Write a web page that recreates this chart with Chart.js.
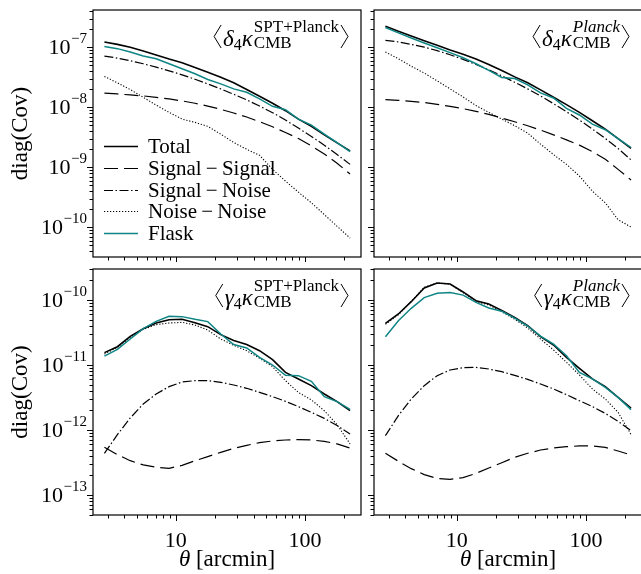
<!DOCTYPE html>
<html>
<head>
<meta charset="utf-8">
<script src="https://cdn.jsdelivr.net/npm/chart.js@4"></script>
<style>
  html, body { margin: 0; padding: 0; background: #fff; overflow: hidden; }
  #fig { position: relative; width: 641px; height: 574px; overflow: hidden; background: #fff; }
  canvas { position: absolute; }
</style>
</head>
<body>
<div id="fig">
  <canvas id="c1" width="368" height="262" style="left:0;top:0"></canvas>
  <canvas id="c2" width="280" height="262" style="left:368px;top:0"></canvas>
  <canvas id="c3" width="368" height="312" style="left:0;top:262px"></canvas>
  <canvas id="c4" width="280" height="312" style="left:368px;top:262px"></canvas>
</div>
<script>
// angular bins (arcmin)
var theta = [2.81, 3.54, 4.45, 5.61, 7.06, 8.89, 11.2, 14.1, 17.7, 22.3, 28.1, 35.4, 44.5, 56.1, 70.6, 88.9, 112, 141, 177, 223];

// <delta_4 kappa_CMB>, SPT+Planck
var dSptTotal = [1.23e-7, 1.12e-7, 1.00e-7, 8.69e-8, 7.45e-8, 6.37e-8, 5.53e-8, 4.62e-8, 3.86e-8, 3.18e-8, 2.56e-8, 1.98e-8, 1.53e-8, 1.17e-8, 8.79e-9, 6.37e-9, 4.81e-9, 3.48e-9, 2.56e-9, 1.88e-9];
var dSptSS = [1.72e-8, 1.67e-8, 1.61e-8, 1.55e-8, 1.47e-8, 1.38e-8, 1.28e-8, 1.17e-8, 1.05e-8, 9.25e-9, 8.04e-9, 6.89e-9, 5.75e-9, 4.74e-9, 3.81e-9, 3.02e-9, 2.28e-9, 1.67e-9, 1.17e-9, 7.73e-10];
var dSptSN = [7.16e-8, 6.62e-8, 5.98e-8, 5.32e-8, 4.68e-8, 4.06e-8, 3.48e-8, 2.94e-8, 2.46e-8, 2.03e-8, 1.65e-8, 1.33e-8, 1.05e-8, 8.15e-9, 6.14e-9, 4.51e-9, 3.27e-9, 2.34e-9, 1.63e-9, 1.12e-9];
var dSptNN = [3.27e-8, 2.56e-8, 1.98e-8, 1.47e-8, 1.09e-8, 8.24e-9, 6.37e-9, 5.61e-9, 4.81e-9, 3.57e-9, 2.59e-9, 2.00e-9, 1.59e-9, 9.25e-10, 5.90e-10, 3.86e-10, 2.56e-10, 1.63e-10, 1.04e-10, 6.62e-11];
var dSptFlask = [1.03e-7, 9.51e-8, 8.36e-8, 7.16e-8, 6.46e-8, 5.32e-8, 4.39e-8, 3.62e-8, 2.91e-8, 2.46e-8, 2.03e-8, 1.78e-8, 1.38e-8, 1.04e-8, 9.14e-9, 6.37e-9, 5.06e-9, 3.57e-9, 2.59e-9, 1.83e-9];

// <delta_4 kappa_CMB>, Planck
var dPlkTotal = [2.25e-7, 1.85e-7, 1.55e-7, 1.29e-7, 1.08e-7, 9.02e-8, 7.64e-8, 6.37e-8, 5.19e-8, 4.12e-8, 3.22e-8, 2.56e-8, 1.95e-8, 1.47e-8, 1.11e-8, 8.24e-9, 5.98e-9, 4.34e-9, 3.02e-9, 2.06e-9];
var dPlkSS = [1.34e-8, 1.31e-8, 1.26e-8, 1.20e-8, 1.12e-8, 1.04e-8, 9.51e-9, 8.57e-9, 7.64e-9, 6.62e-9, 5.75e-9, 4.93e-9, 4.17e-9, 3.48e-9, 2.87e-9, 2.34e-9, 1.83e-9, 1.36e-9, 9.25e-10, 6.14e-10];
var dPlkSN = [1.31e-7, 1.23e-7, 1.12e-7, 1.01e-7, 8.79e-8, 7.53e-8, 6.30e-8, 5.19e-8, 4.23e-8, 3.35e-8, 2.62e-8, 2.03e-8, 1.55e-8, 1.15e-8, 8.45e-9, 6.14e-9, 4.34e-9, 3.02e-9, 2.06e-9, 1.33e-9];
var dPlkNN = [8.36e-8, 6.46e-8, 4.86e-8, 3.72e-8, 2.76e-8, 2.03e-8, 1.49e-8, 1.07e-8, 8.24e-9, 6.37e-9, 4.93e-9, 3.72e-9, 2.43e-9, 1.63e-9, 1.12e-9, 7.16e-10, 4.01e-10, 2.56e-10, 1.34e-10, 1.01e-10];
var dPlkFlask = [2.14e-7, 1.74e-7, 1.43e-7, 1.18e-7, 9.86e-8, 8.15e-8, 6.71e-8, 5.32e-8, 4.12e-8, 3.14e-8, 3.02e-8, 2.37e-8, 1.74e-8, 1.43e-8, 9.62e-9, 7.45e-9, 5.26e-9, 4.23e-9, 3.02e-9, 2.14e-9];

// <gamma_4 kappa_CMB>, SPT+Planck
var gSptTotal = [1.55e-11, 1.91e-11, 2.76e-11, 3.62e-11, 4.43e-11, 4.98e-11, 5.05e-11, 4.48e-11, 3.89e-11, 2.93e-11, 2.39e-11, 2.06e-11, 1.66e-11, 1.21e-11, 7.71e-12, 6.10e-12, 4.81e-12, 3.58e-12, 2.73e-12, 1.98e-12];
var gSptSS = [5.41e-13, 4.18e-13, 3.37e-13, 2.90e-13, 2.67e-13, 2.57e-13, 2.86e-13, 3.37e-13, 3.89e-13, 4.53e-13, 5.22e-13, 5.81e-13, 6.38e-13, 6.78e-13, 7.02e-13, 7.10e-13, 7.02e-13, 6.70e-13, 6.10e-13, 5.28e-13];
var gSptSN = [4.38e-13, 8.47e-13, 1.53e-12, 2.51e-12, 3.58e-12, 4.65e-12, 5.47e-12, 5.74e-12, 5.74e-12, 5.41e-12, 4.92e-12, 4.38e-12, 3.79e-12, 3.26e-12, 2.76e-12, 2.29e-12, 1.87e-12, 1.51e-12, 1.17e-12, 8.67e-13];
var gSptNN = [1.48e-11, 1.87e-11, 2.67e-11, 3.54e-11, 4.18e-11, 4.43e-11, 4.53e-11, 4.12e-11, 3.45e-11, 2.51e-11, 2.01e-11, 1.66e-11, 1.27e-11, 9.42e-12, 5.74e-12, 3.79e-12, 2.90e-12, 1.98e-12, 1.21e-12, 6.10e-13];
var gSptFlask = [1.37e-11, 1.74e-11, 2.51e-11, 3.62e-11, 4.70e-11, 5.61e-11, 5.55e-11, 5.05e-11, 4.65e-11, 3.00e-11, 2.06e-11, 1.83e-11, 1.31e-11, 1.00e-11, 6.93e-12, 6.85e-12, 5.61e-12, 3.26e-12, 2.73e-12, 2.08e-12];

// <gamma_4 kappa_CMB>, Planck
var gPlkTotal = [4.38e-11, 6.10e-11, 9.42e-11, 1.53e-10, 1.83e-10, 1.76e-10, 1.33e-10, 9.77e-11, 8.67e-11, 6.93e-11, 5.41e-11, 4.03e-11, 2.73e-11, 2.03e-11, 1.31e-11, 8.89e-12, 6.10e-12, 4.65e-12, 3.18e-12, 2.18e-12];
var gPlkSS = [4.38e-13, 3.30e-13, 2.54e-13, 2.06e-13, 1.80e-13, 1.74e-13, 1.85e-13, 2.15e-13, 2.60e-13, 3.14e-13, 3.79e-13, 4.38e-13, 4.92e-13, 5.28e-13, 5.55e-13, 5.68e-13, 5.68e-13, 5.41e-13, 4.75e-13, 4.12e-13];
var gPlkSN = [8.18e-13, 1.66e-12, 3.00e-12, 4.81e-12, 6.85e-12, 8.38e-12, 9.10e-12, 9.20e-12, 8.67e-12, 7.89e-12, 6.93e-12, 6.01e-12, 5.10e-12, 4.28e-12, 3.50e-12, 2.82e-12, 2.29e-12, 1.80e-12, 1.36e-12, 9.77e-13];
var gPlkNN = [4.23e-11, 5.94e-11, 9.53e-11, 1.57e-10, 1.83e-10, 1.76e-10, 1.30e-10, 9.53e-11, 8.38e-11, 6.62e-11, 5.05e-11, 3.71e-11, 2.51e-11, 1.70e-11, 1.10e-11, 7.02e-12, 4.28e-12, 3.00e-12, 1.87e-12, 8.47e-13];
var gPlkFlask = [2.73e-11, 4.81e-11, 7.45e-11, 1.09e-10, 1.27e-10, 1.30e-10, 1.19e-10, 9.20e-11, 7.53e-11, 6.70e-11, 5.28e-11, 3.98e-11, 2.79e-11, 2.10e-11, 1.39e-11, 7.71e-12, 6.10e-12, 4.53e-12, 3.18e-12, 2.06e-12];

var seriesNames = ["Total", "Signal\u2009\u2212\u2009Signal", "Signal\u2009\u2212\u2009Noise", "Noise\u2009\u2212\u2009Noise", "Flask"];

// axis limits
var xLim = [2.293, 271];
var yLimTop = [3.2e-11, 4.19e-7];
var yLimBottom = [4.92e-14, 3.0e-10];

var FONT = '"Liberation Serif", "Times New Roman", serif';
var colors = ["#000000", "#000000", "#000000", "#000000", "#0f8585"];
var widths = [1.6, 1.2, 1.2, 1.1, 1.5];
var dashes = [[], [14, 6], [9, 2.5, 1.5, 2.5], [1.2, 1.8], []];
var drawOrder = [4, 3, 2, 1, 0];

var panels = [
    { id: "c1", series: [dSptTotal, dSptSS, dSptSN, dSptNN, dSptFlask], yLim: yLimTop, greek: "\u03b4", sup: "SPT+Planck", supItalic: false, left: true, bottom: false, legend: true },
    { id: "c2", series: [dPlkTotal, dPlkSS, dPlkSN, dPlkNN, dPlkFlask], yLim: yLimTop, greek: "\u03b4", sup: "Planck", supItalic: true, left: false, bottom: false, legend: false },
    { id: "c3", series: [gSptTotal, gSptSS, gSptSN, gSptNN, gSptFlask], yLim: yLimBottom, greek: "\u03b3", sup: "SPT+Planck", supItalic: false, left: true, bottom: true, legend: false },
    { id: "c4", series: [gPlkTotal, gPlkSS, gPlkSN, gPlkNN, gPlkFlask], yLim: yLimBottom, greek: "\u03b3", sup: "Planck", supItalic: true, left: false, bottom: true, legend: false }
];

function logTicks(min, max) {
    var out = [];
    for (var e = Math.floor(Math.log10(min)); e <= Math.ceil(Math.log10(max)); e++) {
        for (var m = 1; m <= 9; m++) {
            var v = m * Math.pow(10, e);
            if (v >= min * 0.999 && v <= max * 1.001) out.push({ v: v, major: m === 1, e: e });
        }
    }
    return out;
}

function drawTitle(ctx, a, p) {
    var big = "italic 23px " + FONT;
    var scr = (p.supItalic ? "italic " : "") + "17px " + FONT;
    var scrUp = "17px " + FONT;
    var s4 = "16px " + FONT;
    ctx.font = big;
    var wG = ctx.measureText(p.greek).width;
    var wK = ctx.measureText("\u03ba").width;
    ctx.font = s4;
    var w4 = ctx.measureText("4").width;
    ctx.font = scr;
    var wSup = ctx.measureText(p.sup).width;
    ctx.font = scrUp;
    var wCmb = ctx.measureText("CMB").width;
    var wScr = Math.max(wSup, wCmb);
    var bw = 7, gap = 2;
    var total = bw + gap + wG + w4 + wK + 1 + wScr + gap + bw;
    var x = a.right - 13 - total;
    var top = a.top + 15, bot = a.top + 38, base = a.top + 36;
    ctx.lineWidth = 1;
    ctx.beginPath();
    ctx.moveTo(x + bw, top); ctx.lineTo(x, (top + bot) / 2); ctx.lineTo(x + bw, bot);
    ctx.stroke();
    x += bw + gap;
    ctx.textAlign = "left";
    ctx.textBaseline = "alphabetic";
    ctx.font = big; ctx.fillText(p.greek, x, base); x += wG;
    ctx.font = s4; ctx.fillText("4", x, base + 4); x += w4;
    ctx.font = big; ctx.fillText("\u03ba", x, base); x += wK + 1;
    ctx.font = scr; ctx.fillText(p.sup, x, a.top + 22);
    ctx.font = scrUp; ctx.fillText("CMB", x, base + 2);
    x += wScr + gap;
    ctx.beginPath();
    ctx.moveTo(x, top); ctx.lineTo(x + bw, (top + bot) / 2); ctx.lineTo(x, bot);
    ctx.stroke();
}

function makeDecor(p) {
    return {
        id: "decor",
        afterDraw: function(chart) {
            var ctx = chart.ctx, a = chart.chartArea;
            var xs = chart.scales.x, ys = chart.scales.y;
            ctx.save();
            ctx.strokeStyle = "#000";
            ctx.fillStyle = "#000";

            // ticks, outside, left and bottom only
            ctx.lineWidth = 1;
            logTicks(xs.min, xs.max).forEach(function(t) {
                var px = Math.round(xs.getPixelForValue(t.v)) + 0.5;
                ctx.beginPath();
                ctx.moveTo(px, a.bottom);
                ctx.lineTo(px, a.bottom + (t.major ? 6 : 3.5));
                ctx.stroke();
            });
            logTicks(ys.min, ys.max).forEach(function(t) {
                var py = Math.round(ys.getPixelForValue(t.v)) + 0.5;
                ctx.beginPath();
                ctx.moveTo(a.left, py);
                ctx.lineTo(a.left - (t.major ? 6 : 3.5), py);
                ctx.stroke();
            });

            // frame
            ctx.lineWidth = 1.2;
            ctx.strokeRect(a.left, a.top, a.right - a.left, a.bottom - a.top);

            // y tick labels 10^n
            if (p.left) {
                ctx.textBaseline = "alphabetic";
                ctx.textAlign = "right";
                logTicks(ys.min, ys.max).forEach(function(t) {
                    if (!t.major) return;
                    var py = ys.getPixelForValue(t.v);
                    var sup = "\u2212" + Math.abs(t.e);
                    ctx.font = "15px " + FONT;
                    var ws = ctx.measureText(sup).width;
                    ctx.fillText(sup, a.left - 6, py - 4);
                    ctx.font = "22px " + FONT;
                    ctx.fillText("10", a.left - 6 - ws - 0.5, py + 7);
                });
                ctx.save();
                ctx.translate(21, (a.top + a.bottom) / 2);
                ctx.rotate(-Math.PI / 2);
                ctx.textAlign = "center";
                ctx.textBaseline = "middle";
                ctx.font = "23px " + FONT;
                ctx.fillText("diag(Cov)", 0, 0);
                ctx.restore();
            }

            // x tick labels and title
            if (p.bottom) {
                ctx.textAlign = "center";
                ctx.textBaseline = "alphabetic";
                ctx.font = "22px " + FONT;
                logTicks(xs.min, xs.max).forEach(function(t) {
                    if (!t.major || t.e < 1) return;
                    ctx.fillText(String(Math.round(t.v)), xs.getPixelForValue(t.v), a.bottom + 32);
                });
                ctx.font = "italic 23px " + FONT;
                var wt = ctx.measureText("\u03b8").width;
                ctx.font = "23px " + FONT;
                var wr = ctx.measureText(" [arcmin]").width;
                var x0 = (a.left + a.right) / 2 - (wt + wr) / 2;
                ctx.textAlign = "left";
                ctx.font = "italic 23px " + FONT;
                ctx.fillText("\u03b8", x0, a.bottom + 51);
                ctx.font = "23px " + FONT;
                ctx.fillText(" [arcmin]", x0 + wt, a.bottom + 51);
            }

            drawTitle(ctx, a, p);

            // legend
            if (p.legend) {
                chart.data.datasets.forEach(function(ds, i) {
                    var y = Math.round(a.top + 136 + i * 21.75) + 0.5;
                    ctx.save();
                    ctx.strokeStyle = ds.borderColor;
                    ctx.lineWidth = ds.borderWidth;
                    ctx.setLineDash(ds.borderDash);
                    ctx.beginPath();
                    ctx.moveTo(a.left + 11, y);
                    ctx.lineTo(a.left + 45, y);
                    ctx.stroke();
                    ctx.restore();
                    ctx.textAlign = "left";
                    ctx.textBaseline = "middle";
                    ctx.font = "21px " + FONT;
                    ctx.fillText(ds.label, a.left + 55, y + 1);
                });
            }
            ctx.restore();
        }
    };
}

panels.forEach(function(p) {
    var datasets = p.series.map(function(vals, i) {
        return {
            label: seriesNames[i],
            data: theta.map(function(t, k) { return { x: t, y: vals[k] }; }),
            borderColor: colors[i],
            borderWidth: widths[i],
            borderDash: dashes[i],
            pointRadius: 0,
            tension: 0,
            fill: false,
            order: drawOrder[i]
        };
    });
    new Chart(document.getElementById(p.id).getContext("2d"), {
        type: "line",
        data: { datasets: datasets },
        options: {
            responsive: false,
            animation: false,
            devicePixelRatio: 1,
            layout: { padding: { top: p.bottom ? 7 : 10, right: p.left ? 7 : 6, left: 0, bottom: 0 } },
            plugins: { legend: { display: false }, tooltip: { enabled: false } },
            scales: {
                x: {
                    type: "logarithmic", min: xLim[0], max: xLim[1],
                    ticks: { display: false }, grid: { display: false }, border: { display: false },
                    afterFit: function(s) { s.height = p.bottom ? 59 : 5; }
                },
                y: {
                    type: "logarithmic", min: p.yLim[0], max: p.yLim[1],
                    ticks: { display: false }, grid: { display: false }, border: { display: false },
                    afterFit: function(s) { s.width = p.left ? 93 : 6; }
                }
            }
        },
        plugins: [makeDecor(p)]
    });
});
</script>
</body>
</html>
